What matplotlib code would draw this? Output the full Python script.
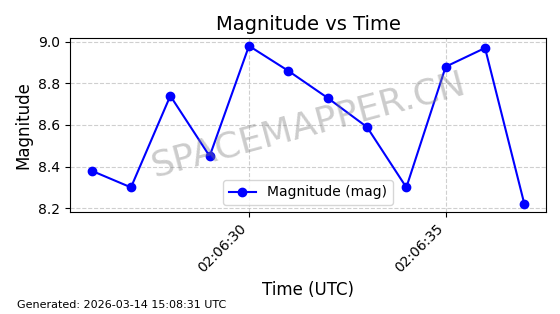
import matplotlib
matplotlib.use("Agg")
import matplotlib.pyplot as plt
import matplotlib.dates as mdates
from datetime import datetime, timedelta

seconds = [26, 27, 28, 29, 30, 31, 32, 33, 34, 35, 36, 37]
magnitudes = [8.38, 8.30, 8.74, 8.45, 8.98, 8.86, 8.73, 8.59, 8.30, 8.88, 8.97, 8.22]
times = [datetime(2026, 3, 14, 2, 6, 0) + timedelta(seconds=s) for s in seconds]

fig, ax = plt.subplots(figsize=(5.6, 3.14), dpi=100)
fig.subplots_adjust(left=0.125, right=0.975, top=0.879, bottom=0.325)

ax.plot(times, magnitudes, color="blue", marker="o", markersize=6,
        linewidth=1.5, label="Magnitude (mag)")
ax.set_title("Magnitude vs Time", fontsize=14)
ax.set_xlabel("Time (UTC)", fontsize=12)
ax.set_ylabel("Magnitude", fontsize=12)
ax.grid(True, linestyle="--", alpha=0.6)
ax.legend(loc="lower center")

ax.xaxis.set_major_locator(mdates.SecondLocator(bysecond=range(0, 60, 5)))
ax.xaxis.set_major_formatter(mdates.DateFormatter("%H:%M:%S"))
plt.setp(ax.get_xticklabels(), rotation=45, ha="right")

# watermark
ax.text(0.5, 0.5, "SPACEMAPPER.CN", transform=ax.transAxes, fontsize=26,
        color="gray", alpha=0.4, rotation=15, ha="center", va="center")

fig.text(0.03, 0.02, "Generated: 2026-03-14 15:08:31 UTC", fontsize=8)

fig.savefig("out.png", dpi=100)
